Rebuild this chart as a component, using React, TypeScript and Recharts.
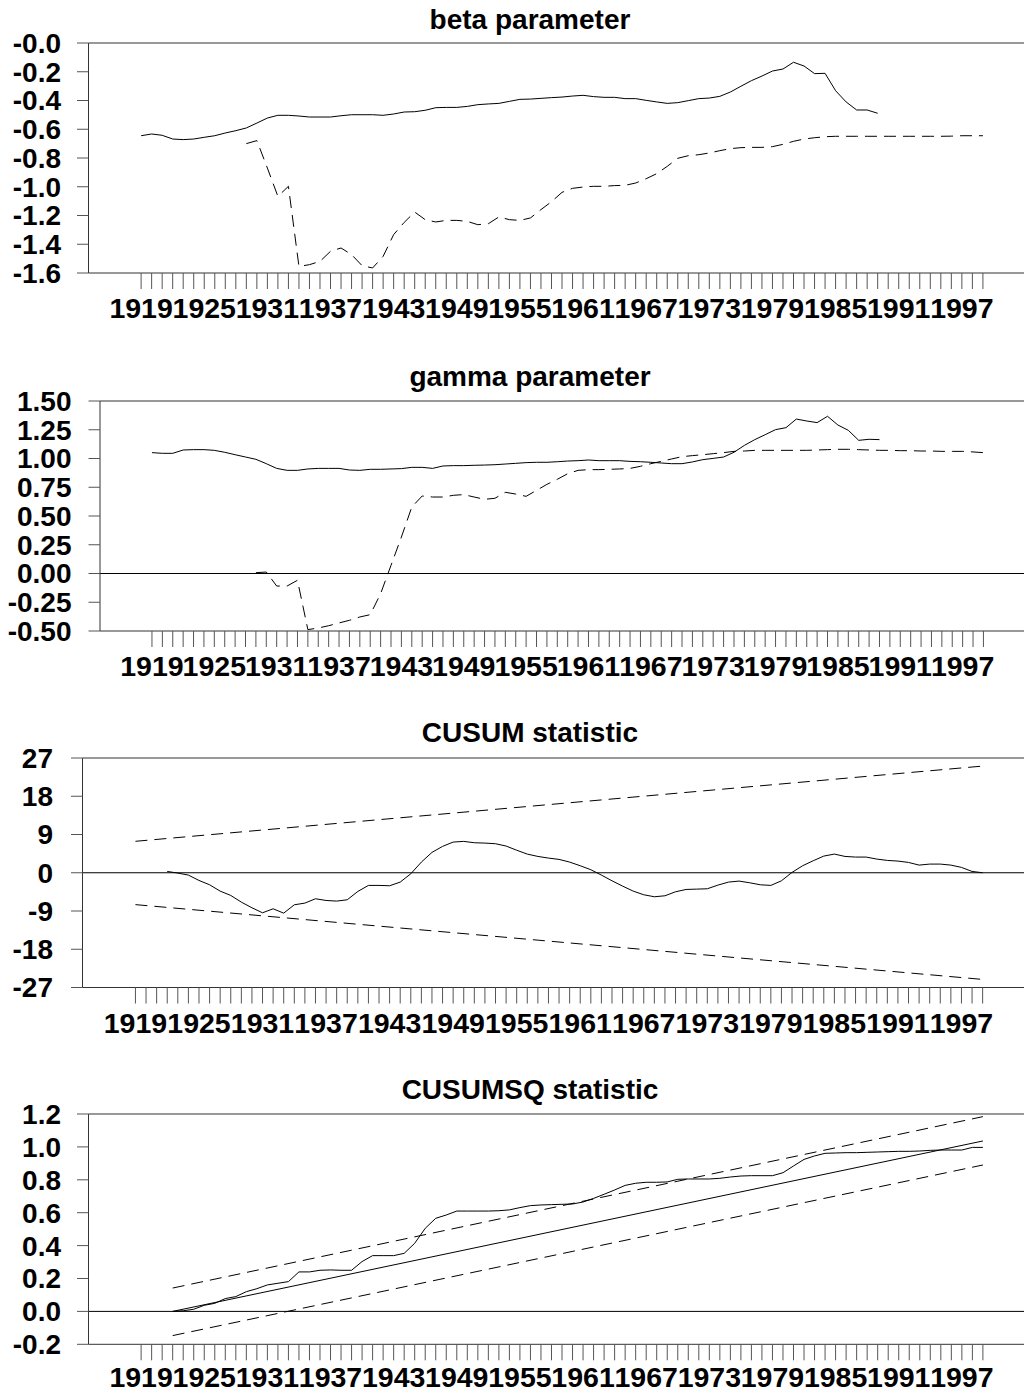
import React from 'react';
import { LineChart, Line, XAxis, YAxis, ReferenceLine } from 'recharts';

// x axis: one tick per year, a label every six years
const FIRST_YEAR = 1919;
const LAST_YEAR = 1999;
const X_DOMAIN: [number, number] = [1914, 2003];
const yearLabels = ['1919', '1925', '1931', '1937', '1943', '1949', '1955', '1961', '1967', '1973', '1979', '1985', '1991', '1997'];

// beta parameter
const betaSolidStart = 1919;
const betaSolid = [
  -0.645, -0.633, -0.642, -0.668, -0.672, -0.668, -0.656, -0.645, -0.626, -0.61,
  -0.591, -0.557, -0.522, -0.503, -0.503, -0.508, -0.515, -0.515, -0.515, -0.506,
  -0.499, -0.499, -0.499, -0.503, -0.494, -0.48, -0.478, -0.468, -0.45, -0.448,
  -0.448, -0.441, -0.429, -0.424, -0.42, -0.406, -0.392, -0.39, -0.385, -0.38,
  -0.376, -0.369, -0.364, -0.373, -0.378, -0.378, -0.387, -0.387, -0.399, -0.41,
  -0.42, -0.415, -0.401, -0.387, -0.383, -0.371, -0.341, -0.301, -0.262, -0.23,
  -0.195, -0.181, -0.134, -0.16, -0.213, -0.211, -0.332, -0.41, -0.466, -0.466,
  -0.489,
];
const betaDashedStart = 1929;
const betaDashed = [
  -0.7, -0.679, -0.87, -1.067, -0.997, -1.554, -1.542, -1.519, -1.449, -1.426,
  -1.472, -1.549, -1.565, -1.484, -1.333, -1.248, -1.176, -1.229, -1.245, -1.234,
  -1.234, -1.241, -1.264, -1.257, -1.21, -1.229, -1.234, -1.217, -1.159, -1.104,
  -1.039, -1.011, -1.002, -0.997, -0.997, -0.992, -0.99, -0.974, -0.944, -0.909,
  -0.858, -0.802, -0.784, -0.777, -0.765, -0.749, -0.735, -0.728, -0.726, -0.726,
  -0.721, -0.705, -0.684, -0.668, -0.659, -0.652, -0.649, -0.649, -0.649, -0.649,
  -0.649, -0.649, -0.649, -0.649, -0.649, -0.649, -0.649, -0.648, -0.645, -0.645,
  -0.645,
];
const betaTicks = [0, -0.2, -0.4, -0.6, -0.8, -1.0, -1.2, -1.4, -1.6];
const betaTickLabels = ['-0.0', '-0.2', '-0.4', '-0.6', '-0.8', '-1.0', '-1.2', '-1.4', '-1.6'];

// gamma parameter
const gammaSolidStart = 1919;
const gammaSolid = [
  1.051, 1.045, 1.045, 1.074, 1.077, 1.077, 1.071, 1.054, 1.033, 1.013,
  0.993, 0.955, 0.914, 0.897, 0.897, 0.909, 0.914, 0.914, 0.914, 0.9,
  0.897, 0.906, 0.906, 0.909, 0.912, 0.923, 0.923, 0.914, 0.935, 0.938,
  0.938, 0.941, 0.943, 0.946, 0.952, 0.958, 0.964, 0.967, 0.967, 0.972,
  0.978, 0.981, 0.987, 0.981, 0.981, 0.981, 0.975, 0.972, 0.967, 0.961,
  0.955, 0.955, 0.97, 0.99, 1.001, 1.013, 1.054, 1.114, 1.164, 1.207,
  1.251, 1.268, 1.343, 1.326, 1.312, 1.367, 1.291, 1.245, 1.158, 1.167,
  1.164,
];
const gammaDashedStart = 1929;
const gammaDashed = [
  0.007, 0.013, -0.109, -0.109, -0.059, -0.488, -0.474, -0.454, -0.43, -0.407,
  -0.378, -0.358, -0.175, 0.071, 0.317, 0.578, 0.674, 0.665, 0.665, 0.68,
  0.686, 0.665, 0.645, 0.654, 0.706, 0.691, 0.671, 0.723, 0.775, 0.819,
  0.868, 0.897, 0.903, 0.903, 0.906, 0.909, 0.914, 0.932, 0.955, 0.975,
  0.996, 1.016, 1.025, 1.033, 1.042, 1.051, 1.062, 1.065, 1.071, 1.071,
  1.071, 1.071, 1.071, 1.071, 1.074, 1.077, 1.08, 1.08, 1.077, 1.074,
  1.071, 1.071, 1.068, 1.068, 1.065, 1.065, 1.062, 1.062, 1.062, 1.057,
  1.051,
];
const gammaTicks = [1.5, 1.25, 1.0, 0.75, 0.5, 0.25, 0, -0.25, -0.5];
const gammaTickLabels = ['1.50', '1.25', '1.00', '0.75', '0.50', '0.25', '0.00', '-0.25', '-0.50'];

// CUSUM statistic
const cusumStart = 1922;
const cusum = [
  0.31, -0.08, -0.55, -1.81, -2.83, -4.32, -5.34, -6.91, -8.24, -9.42,
  -8.48, -9.5, -7.54, -7.14, -6.12, -6.52, -6.67, -6.36, -4.4, -2.98,
  -2.98, -3.06, -2.2, -0.24, 2.51, 4.79, 6.2, 7.22, 7.38, 7.06,
  6.98, 6.83, 6.28, 5.3, 4.39, 3.84, 3.45, 3.14, 2.51, 1.65,
  0.71, -0.55, -1.89, -3.14, -4.32, -5.18, -5.65, -5.42, -4.48, -3.93,
  -3.85, -3.77, -2.91, -2.2, -1.96, -2.36, -2.83, -2.98, -1.89, 0.08,
  1.65, 2.82, 3.92, 4.39, 3.84, 3.69, 3.69, 3.22, 2.9, 2.75,
  2.43, 1.8, 2.04, 2.04, 1.8, 1.26, 0.31, 0,
];
const cusumUpper: [number, number][] = [[1919, 7.4], [1999, 25.1]];
const cusumLower: [number, number][] = [[1919, -7.5], [1999, -25.1]];
const cusumTicks = [27, 18, 9, 0, -9, -18, -27];
const cusumTickLabels = ['27', '18', '9', '0', '-9', '-18', '-27'];

// CUSUM of squares statistic
const cusumsqStart = 1922;
const cusumsq = [
  0, 0.004, 0.013, 0.037, 0.049, 0.078, 0.09, 0.12, 0.138, 0.161,
  0.171, 0.181, 0.24, 0.24, 0.25, 0.252, 0.25, 0.25, 0.303, 0.339,
  0.339, 0.339, 0.353, 0.414, 0.505, 0.566, 0.586, 0.61, 0.61, 0.61,
  0.61, 0.612, 0.617, 0.631, 0.643, 0.647, 0.649, 0.651, 0.653, 0.665,
  0.687, 0.712, 0.738, 0.766, 0.779, 0.785, 0.785, 0.787, 0.803, 0.805,
  0.805, 0.805, 0.809, 0.817, 0.823, 0.825, 0.825, 0.825, 0.843, 0.884,
  0.924, 0.945, 0.961, 0.963, 0.965, 0.965, 0.967, 0.969, 0.971, 0.973,
  0.973, 0.975, 0.979, 0.981, 0.981, 0.981, 0.997, 0.997,
];
const cusumsqMean: [number, number][] = [[1922, 0], [1999, 1.036]];
const cusumsqUpper: [number, number][] = [[1922, 0.142], [1999, 1.184]];
const cusumsqLower: [number, number][] = [[1922, -0.147], [1999, 0.89]];
const cusumsqTicks = [1.2, 1.0, 0.8, 0.6, 0.4, 0.2, 0, -0.2];
const cusumsqTickLabels = ['1.2', '1.0', '0.8', '0.6', '0.4', '0.2', '0.0', '-0.2'];

const FONT = '"Liberation Sans", Arial, Helvetica, sans-serif';
const PAD_TOP = 22;

type Series = { start: number; values: number[] } | { points: [number, number][] };

function buildRows(series: Record<string, Series>) {
  const rows: Record<string, number>[] = [];
  for (let y = FIRST_YEAR; y <= LAST_YEAR; y++) {
    const row: Record<string, number> = { year: y };
    for (const key of Object.keys(series)) {
      const s = series[key];
      if ('points' in s) {
        const p = s.points.find((pt) => pt[0] === y);
        if (p) row[key] = p[1];
      } else {
        const i = y - s.start;
        if (i >= 0 && i < s.values.length) row[key] = s.values[i];
      }
    }
    rows.push(row);
  }
  return rows;
}

const tickYears: number[] = [];
for (let y = FIRST_YEAR; y <= LAST_YEAR; y++) tickYears.push(y);

interface LineSpec {
  key: string;
  dashed?: boolean;
}

interface PanelProps {
  title: string;
  titleTop: number;
  plotTop: number;
  plotH: number;
  axisX: number;
  labelGap: number;
  xLabelGap?: number;
  xAxisH?: number;
  rows: Record<string, number>[];
  yTicks: number[];
  yLabels: string[];
  zeroLine?: boolean;
  lines: LineSpec[];
}

function Panel({ title, titleTop, plotTop, plotH, axisX, labelGap, xLabelGap = 9, xAxisH = 60, rows, yTicks, yLabels, zeroLine, lines }: PanelProps) {
  const yMax = Math.max(...yTicks);
  const yMin = Math.min(...yTicks);
  const labelFor = (v: number) => {
    const i = yTicks.findIndex((t) => Math.abs(t - v) < 1e-9);
    return i >= 0 ? yLabels[i] : '';
  };
  return (
    <>
      <div
        style={{
          position: 'absolute',
          left: 0,
          top: titleTop,
          width: 1060,
          textAlign: 'center',
          fontFamily: FONT,
          fontWeight: 'bold',
          fontSize: 28,
          lineHeight: '28px',
          color: '#000',
        }}
      >
        {title}
      </div>
      <div style={{ position: 'absolute', left: 0, top: plotTop - PAD_TOP }}>
        <LineChart width={1030} height={PAD_TOP + plotH + xAxisH} data={rows} margin={{ top: PAD_TOP, right: 5, left: 0, bottom: 0 }}>
          <XAxis
            dataKey='year'
            type='number'
            domain={X_DOMAIN}
            ticks={tickYears}
            interval={0}
            height={xAxisH}
            tickSize={16}
            tickMargin={xLabelGap}
            tickFormatter={(v: number) => (yearLabels.includes(String(v)) ? String(v) : '')}
            axisLine={{ stroke: '#333' }}
            tickLine={{ stroke: '#555' }}
            tick={{ fill: '#000', fontSize: 28.5, fontWeight: 'bold', fontFamily: FONT }}
          />
          <YAxis
            type='number'
            domain={[yMin, yMax]}
            ticks={yTicks}
            interval={0}
            width={axisX}
            tickSize={11.5}
            tickMargin={labelGap}
            tickFormatter={labelFor}
            axisLine={{ stroke: '#333' }}
            tickLine={{ stroke: '#555' }}
            tick={{ fill: '#000', fontSize: 28, fontWeight: 'bold', fontFamily: FONT }}
          />
          <ReferenceLine y={yMax} stroke='#333' />
          {zeroLine && <ReferenceLine y={0} stroke='#000' />}
          {lines.map((l) => (
            <Line
              key={l.key}
              dataKey={l.key}
              type='linear'
              stroke='#000'
              strokeWidth={1}
              strokeDasharray={l.dashed ? '12 7' : undefined}
              dot={false}
              activeDot={false}
              connectNulls
              isAnimationActive={false}
            />
          ))}
        </LineChart>
      </div>
    </>
  );
}

export default function App() {
  const betaRows = buildRows({
    solid: { start: betaSolidStart, values: betaSolid },
    dashed: { start: betaDashedStart, values: betaDashed },
  });
  const gammaRows = buildRows({
    solid: { start: gammaSolidStart, values: gammaSolid },
    dashed: { start: gammaDashedStart, values: gammaDashed },
  });
  const cusumRows = buildRows({
    stat: { start: cusumStart, values: cusum },
    upper: { points: cusumUpper },
    lower: { points: cusumLower },
  });
  const cusumsqRows = buildRows({
    stat: { start: cusumsqStart, values: cusumsq },
    mean: { points: cusumsqMean },
    upper: { points: cusumsqUpper },
    lower: { points: cusumsqLower },
  });

  return (
    <div style={{ position: 'absolute', left: 0, top: 0, width: 1024, height: 1393, overflow: 'hidden', background: '#fff' }}>
      <Panel
        title='beta parameter'
        titleTop={5.6}
        plotTop={43}
        plotH={230}
        axisX={88.5}
        labelGap={16}
        rows={betaRows}
        yTicks={betaTicks}
        yLabels={betaTickLabels}
        lines={[{ key: 'solid' }, { key: 'dashed', dashed: true }]}
      />
      <Panel
        title='gamma parameter'
        titleTop={363}
        plotTop={400.5}
        plotH={230}
        axisX={100}
        labelGap={17}
        rows={gammaRows}
        yTicks={gammaTicks}
        yLabels={gammaTickLabels}
        zeroLine
        lines={[{ key: 'solid' }, { key: 'dashed', dashed: true }]}
      />
      <Panel
        title='CUSUM statistic'
        titleTop={718.6}
        plotTop={757.5}
        plotH={229.5}
        axisX={82.5}
        labelGap={18}
        rows={cusumRows}
        yTicks={cusumTicks}
        yLabels={cusumTickLabels}
        zeroLine
        lines={[{ key: 'stat' }, { key: 'upper', dashed: true }, { key: 'lower', dashed: true }]}
      />
      <Panel
        title='CUSUMSQ statistic'
        titleTop={1076.3}
        plotTop={1114}
        plotH={230.3}
        axisX={88.5}
        labelGap={16}
        xLabelGap={6}
        xAxisH={48}
        rows={cusumsqRows}
        yTicks={cusumsqTicks}
        yLabels={cusumsqTickLabels}
        zeroLine
        lines={[{ key: 'stat' }, { key: 'mean' }, { key: 'upper', dashed: true }, { key: 'lower', dashed: true }]}
      />
    </div>
  );
}
